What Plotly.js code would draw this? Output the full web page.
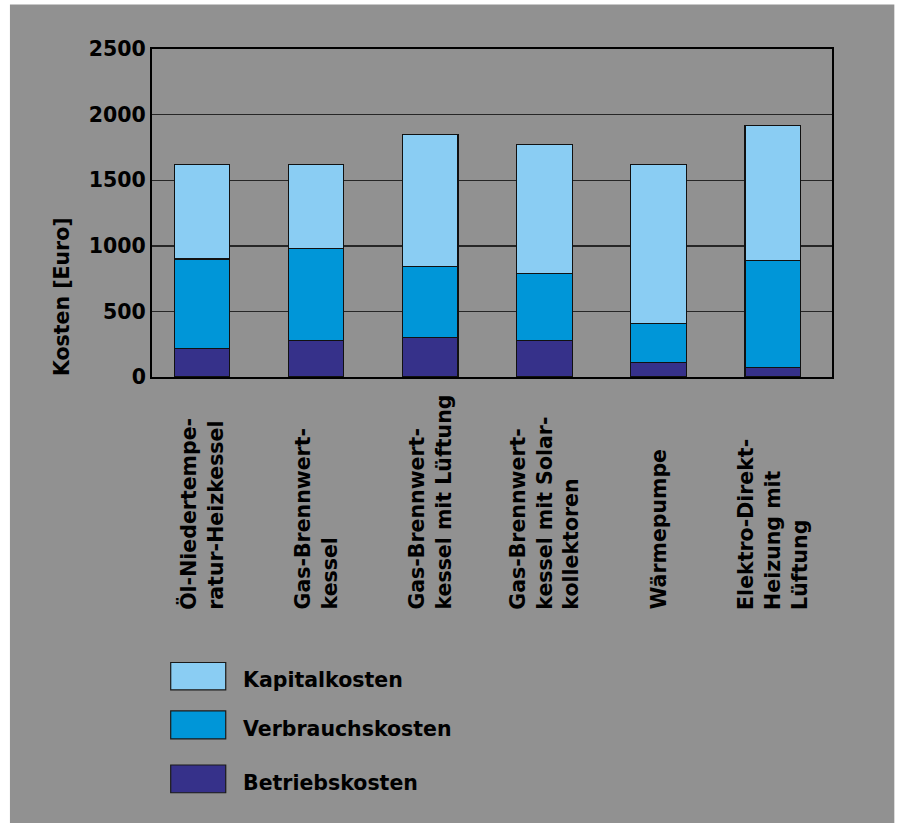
<!DOCTYPE html>
<html>
<head>
<meta charset="utf-8">
<script src="https://cdn.plot.ly/plotly-3.0.1.min.js"></script>
<style>
  html, body { margin: 0; padding: 0; background: #919191; }
  #chart { width: 899px; height: 823px; }
</style>
</head>
<body>
<div id="chart"></div>
<script>
// Heizsysteme (category labels, line breaks as drawn under the axis)
const categories = [
  "Öl-Niedertempe-<br>ratur-Heizkessel",
  "Gas-Brennwert-<br>kessel",
  "Gas-Brennwert-<br>kessel mit Lüftung",
  "Gas-Brennwert-<br>kessel mit Solar-<br>kollektoren",
  "Wärmepumpe",
  "Elektro-Direkt-<br>Heizung mit<br>Lüftung"
];

// Jährliche Kosten je Kostenart in Euro (stacked from bottom to top)
const betriebskosten   = [220, 280, 300, 280, 110, 70];
const verbrauchskosten = [680, 700, 540, 510, 295, 820];
const kapitalkosten    = [720, 640, 1010, 980, 1215, 1030];

const seriesNames = ["Kapitalkosten", "Verbrauchskosten", "Betriebskosten"];
const yTicks = [0, 500, 1000, 1500, 2000, 2500];

const colors = {
  Kapitalkosten: "#8acdf3",
  Verbrauchskosten: "#0096d8",
  Betriebskosten: "#36318a"
};

const FONT = "DejaVu Sans, Liberation Sans, Arial, sans-serif";
const FS = 20.5;

// Plot frame in pixels
const W = 899, H = 823;
const L = 152, R = 831.7, T = 49.3, B = 376.7;
const px2x = p => (p - L) / (R - L);
const px2y = p => (B - p) / (B - T);

function barTrace(name, values) {
  return {
    type: "bar",
    name: name,
    x: categories,
    y: values,
    width: 0.485,
    marker: { color: colors[name], line: { color: "#111111", width: 1.2 } },
    hoverinfo: "skip",
    showlegend: false
  };
}

const data = [
  barTrace("Betriebskosten", betriebskosten),
  barTrace("Verbrauchskosten", verbrauchskosten),
  barTrace("Kapitalkosten", kapitalkosten)
];

const annotations = [];

// category labels, rotated, starting at a common baseline below the axis
categories.forEach(c => {
  annotations.push({
    x: c, xref: "x",
    y: px2y(611), yref: "paper",
    text: c,
    textangle: -90,
    align: "left",
    xanchor: "center",
    yanchor: "bottom",
    showarrow: false,
    font: { family: FONT, size: FS, weight: "bold", color: "#000000" }
  });
});

// y axis title
annotations.push({
  x: px2x(62), xref: "paper",
  y: px2y(296), yref: "paper",
  text: "Kosten [Euro]",
  textangle: -90,
  xanchor: "center", yanchor: "middle",
  showarrow: false,
  font: { family: FONT, size: FS, weight: "bold", color: "#000000" }
});

// legend: swatches and labels
const legendRows = [
  { name: "Kapitalkosten", top: 661.7, bottom: 689, textY: 679 },
  { name: "Verbrauchskosten", top: 710, bottom: 738, textY: 728 },
  { name: "Betriebskosten", top: 764, bottom: 791.7, textY: 781.5 }
];

// white page margin around the grey panel (left, top, right)
const whiteStrip = (x0, x1, y0, y1) => ({
  type: "rect", xref: "paper", yref: "paper", layer: "below",
  x0: px2x(x0), x1: px2x(x1), y0: px2y(y1), y1: px2y(y0),
  fillcolor: "#ffffff", line: { width: 0 }
});

const shapes = [
  whiteStrip(-2, 10, -2, 830),
  whiteStrip(-2, 905, -2, 5),
  whiteStrip(894, 905, -2, 830)
];

legendRows.forEach(r => {
  shapes.push({
    type: "rect", xref: "paper", yref: "paper", layer: "above",
    x0: px2x(170.7), x1: px2x(225.7), y0: px2y(r.bottom), y1: px2y(r.top),
    fillcolor: colors[r.name], line: { color: "#1a1a1a", width: 1.2 }
  });
  annotations.push({
    x: px2x(241), xref: "paper",
    y: px2y(r.textY), yref: "paper",
    text: r.name,
    xanchor: "left", yanchor: "middle",
    showarrow: false,
    font: { family: FONT, size: FS, weight: "bold", color: "#000000" }
  });
});

const layout = {
  width: W, height: H,
  margin: { l: L, r: W - R, t: T, b: H - B, pad: 0 },
  paper_bgcolor: "#919191",
  plot_bgcolor: "rgba(0,0,0,0)",
  barmode: "stack",
  bargap: 0.5,
  showlegend: false,
  font: { family: FONT, size: FS, color: "#000000" },
  xaxis: {
    type: "category",
    categoryorder: "array",
    categoryarray: categories,
    range: [-0.439, 5.520],
    showticklabels: false,
    ticks: "",
    showgrid: false,
    zeroline: false,
    showline: true,
    linecolor: "#000000",
    linewidth: 2,
    mirror: true,
    fixedrange: true
  },
  yaxis: {
    range: [0, 2500],
    tickvals: yTicks,
    ticktext: yTicks.map(String),
    ticks: "",
    ticklabelstandoff: 0,
    tickfont: { family: FONT, size: FS, weight: "bold", color: "#000000" },
    showgrid: true,
    gridcolor: "#262626",
    gridwidth: 1.4,
    zeroline: false,
    showline: true,
    linecolor: "#000000",
    linewidth: 2,
    mirror: true,
    fixedrange: true
  },
  shapes: shapes,
  annotations: annotations
};

Plotly.newPlot("chart", data, layout, { displayModeBar: false, staticPlot: true });
</script>
</body>
</html>
